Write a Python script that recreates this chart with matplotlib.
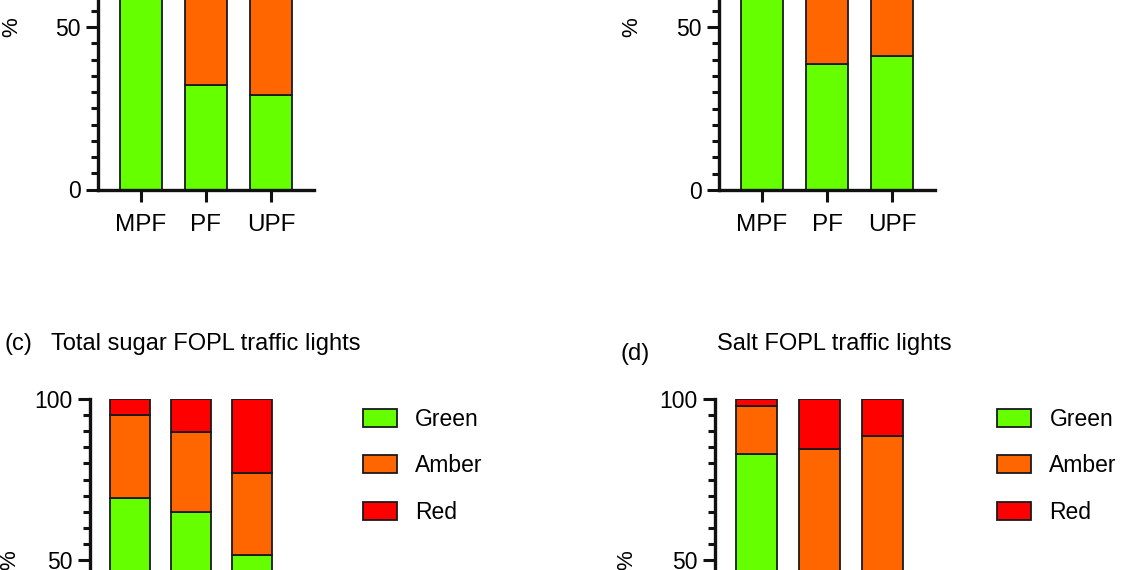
import matplotlib.pyplot as plt
from matplotlib.ticker import MultipleLocator
from matplotlib.patches import Patch

plt.rcParams['font.family'] = ['Liberation Sans', 'DejaVu Sans']

groups = ['MPF', 'PF', 'UPF']
series = ['Green', 'Amber', 'Red']
colors = ['#66ff00', '#ff6600', '#ff0000']

# stacked percentages per panel (green, amber, red); the parts outside the crop are guesses
a_green = [88.0, 32.1, 29.2]
a_amber = [10.0, 50.0, 50.0]
a_red = [2.0, 17.9, 20.8]

b_green = [92.0, 38.8, 41.0]
b_amber = [7.0, 45.0, 42.0]
b_red = [1.0, 16.2, 17.0]

c_green = [69.2, 64.8, 51.6]
c_amber = [25.8, 25.0, 25.3]
c_red = [5.0, 10.2, 23.1]

d_green = [82.9, 0.0, 0.0]
d_amber = [15.0, 84.4, 88.6]
d_red = [2.1, 15.6, 11.4]

W, H = 1140, 570
fig = plt.figure(figsize=(W / 100, H / 100), dpi=100)


def make_axes(left_px, zero_px, width_px, unit_px):
    # zero_px = pixel row (from top) of y=0, unit_px = pixels per 1 %
    height_px = 100 * unit_px
    return fig.add_axes([left_px / W, (H - zero_px) / H, width_px / W, height_px / H])


def draw(ax, green, amber, red, label_x, legend=False):
    x = list(range(len(groups)))
    bottom = [0.0] * len(groups)
    for vals, col in zip([green, amber, red], colors):
        ax.bar(x, vals, width=0.65, bottom=bottom, color=col, edgecolor='#1a1a1a', linewidth=1.3)
        bottom = [b + v for b, v in zip(bottom, vals)]
    ax.set_xlim(-0.66, 2.66)
    ax.set_ylim(0, 100)
    ax.set_xticks(x)
    ax.set_xticklabels(groups, fontsize=17.5)
    ax.set_yticks([0, 50, 100])
    ax.tick_params(axis='y', labelsize=16.5, pad=4)
    ax.tick_params(axis='x', pad=9)
    ax.yaxis.set_minor_locator(MultipleLocator(5))
    ax.tick_params(which='major', length=8.5, width=2.2, color='#111111')
    ax.tick_params(which='minor', length=5, width=2.2, color='#111111')
    ax.tick_params(axis='x', which='minor', bottom=False)
    for s in ['top', 'right']:
        ax.spines[s].set_visible(False)
    for s in ['left', 'bottom']:
        ax.spines[s].set_linewidth(2.4)
        ax.spines[s].set_color('#111111')
    ax.set_ylabel('%', fontsize=16)
    ax.yaxis.set_label_coords(label_x, 0.5)
    if legend:
        handles = [Patch(facecolor=c, edgecolor='#1a1a1a', linewidth=1.3) for c in colors]
        ax.legend(handles, series, loc='upper left', bbox_to_anchor=(1.35, 0.972), frameon=False,
                  fontsize=16.5, handlelength=1.48, handleheight=0.83, labelspacing=1.02,
                  handletextpad=0.8, borderpad=0, borderaxespad=0)


ax_a = make_axes(98, 189.5, 216, 3.25)
draw(ax_a, a_green, a_amber, a_red, -0.352)
ax_b = make_axes(719, 190, 216, 3.26)
draw(ax_b, b_green, b_amber, b_red, -0.356)
ax_c = make_axes(90, 721, 202, 3.22)
draw(ax_c, c_green, c_amber, c_red, -0.347, legend=True)
ax_d = make_axes(715, 721, 209, 3.22)
draw(ax_d, d_green, d_amber, d_red, -0.373, legend=True)

fig.text(5 / W, (H - 344) / H, '(c)', fontsize=17, va='center', ha='left')
fig.text(51 / W, (H - 344) / H, 'Total sugar FOPL traffic lights', fontsize=17, va='center', ha='left')
fig.text(621 / W, (H - 354) / H, '(d)', fontsize=17, va='center', ha='left')
fig.text(717 / W, (H - 344) / H, 'Salt FOPL traffic lights', fontsize=17, va='center', ha='left')

fig.savefig('out.png', dpi=100)
